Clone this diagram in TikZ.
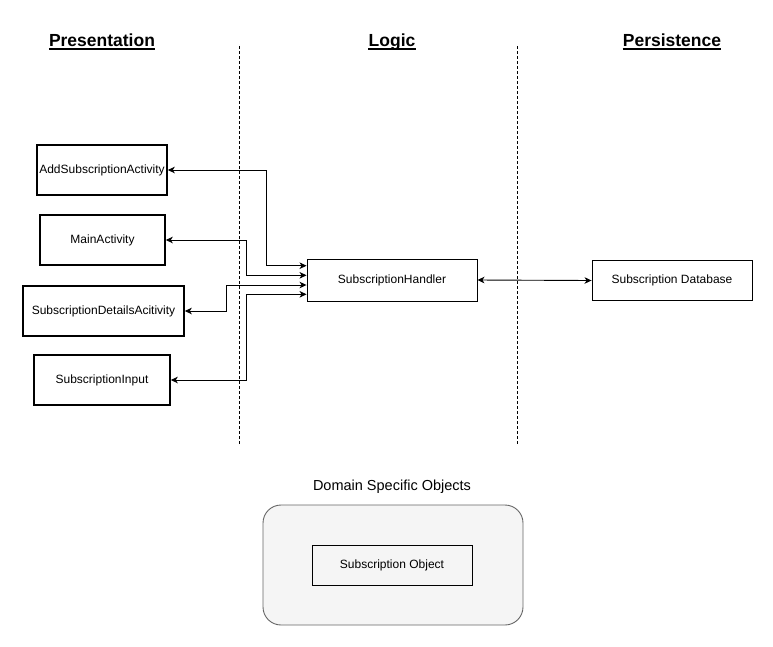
\documentclass[tikz,border=0pt]{standalone}
\usepackage{fontspec}
\setmainfont{Liberation Sans}
\usetikzlibrary{arrows.meta,calc}
\tikzset{
  pbox/.style={draw=black, line width=1.6pt, minimum height=50pt, inner sep=0pt, font=\fontsize{12}{14}\selectfont},
  tbox/.style={draw=black, line width=0.9pt, inner sep=0pt, font=\fontsize{12}{14}\selectfont},
  title/.style={font=\fontsize{17.5}{20}\selectfont\bfseries, inner sep=0pt, anchor=base},
  uline/.style={line width=1.4pt},
  lane/.style={line width=0.8pt, dash pattern=on 3pt off 2pt},
  conn/.style={line width=0.9pt, {Stealth[length=7pt,width=6.5pt,inset=2pt]}-{Stealth[length=7pt,width=6.5pt,inset=2pt]}},
}
\begin{document}
\begin{tikzpicture}[x=1pt,y=-1pt]
\useasboundingbox (0,0) rectangle (773,646);
% titles
\node[title] (tp) at (102,46.5) {Presentation};
\node[title] (tl) at (392,46.5) {Logic};
\node[title] (tr) at (672,46.5) {Persistence};
\draw[uline] ([yshift=-2.3pt]tp.base west) -- ([yshift=-2.3pt]tp.base east);
\draw[uline] ([yshift=-2.3pt]tl.base west) -- ([yshift=-2.3pt]tl.base east);
\draw[uline] ([yshift=-2.3pt]tr.base west) -- ([yshift=-2.3pt]tr.base east);
% lanes
\coordinate (l1a) at (239,46); \coordinate (l1b) at (239,445);
\coordinate (l2a) at (517,46); \coordinate (l2b) at (517,445);
\draw[lane] (l1a) -- (l1b);
\draw[lane] (l2a) -- (l2b);
% presentation boxes
\node[pbox, minimum width=130pt] (add) at (102,170) {AddSubscriptionActivity};
\node[pbox, minimum width=125pt] (main) at (102.5,240) {MainActivity};
\node[pbox, minimum width=161pt] (det) at (103.5,311) {SubscriptionDetailsAcitivity};
\node[pbox, minimum width=136pt] (inp) at (102,380) {SubscriptionInput};
% logic / persistence
\node[tbox, minimum width=170pt, minimum height=42pt] (hdl) at (392,280) {SubscriptionHandler};
\node[tbox, minimum width=160pt, minimum height=40pt] (db) at (672,280.5) {Subscription Database};
% connectors
\coordinate (h1) at ([yshift=14.3pt]hdl.west);
\coordinate (h2) at ([yshift=4.7pt]hdl.west);
\coordinate (h3) at ([yshift=-5pt]hdl.west);
\coordinate (h4) at ([yshift=-14.3pt]hdl.west);
\draw[conn] (add.east) -| ($(h1)+(-40,0)$) -- (h1);
\draw[conn] (main.east) -| ($(h2)+(-60,0)$) -- (h2);
\draw[conn] (det.east) -| ($(h3)+(-80,0)$) -- (h3);
\draw[conn] (inp.east) -| ($(h4)+(-60,0)$) -- (h4);
\draw[conn] (hdl.east) -- (db.west);
% domain objects
\node[font=\fontsize{14.5}{17}\selectfont] (dlab) at (392,487) {Domain Specific Objects};
\node[draw=black!60, fill=black!4, line width=0.9pt, rounded corners=18pt, minimum width=260pt, minimum height=120pt] (dom) at (393,565) {};
\node[tbox, minimum width=160pt, minimum height=40pt] (obj) at (392,565) {Subscription Object};
\end{tikzpicture}
\end{document}
